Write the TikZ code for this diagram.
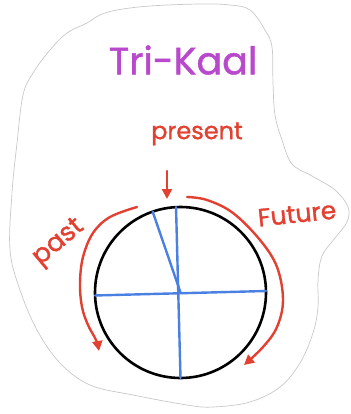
\documentclass[tikz,border=0pt]{standalone}
\usepackage{fontspec}
\setmainfont{Poppins}
\newfontfamily\hand{Poppins}[FakeBold=1.2]
\usetikzlibrary{arrows.meta}
\definecolor{penred}{RGB}{226,64,48}
\definecolor{penblue}{RGB}{74,128,226}
\definecolor{penpurple}{RGB}{184,72,204}
\definecolor{outline}{RGB}{200,200,200}
\tikzset{
  redpen/.style={draw=penred, line width=2.4pt, line cap=round, line join=round},
  bluepen/.style={draw=penblue, line width=2.4pt, line cap=round},
  redtip/.style={-{Triangle[length=10pt,width=10pt]}},
  lbl/.style={inner sep=0pt, text=penred},
}
\begin{document}
\begin{tikzpicture}[x=1pt,y=-1pt]
\useasboundingbox (0,0) rectangle (350,414);
% sticker outline
\draw[outline, line width=0.7pt] plot[smooth cycle, tension=0.6] coordinates {
  (117,10) (150,6) (200,4) (230,5) (250,10) (265,30) (272,47) (273,83) (275,115) (282,140)
  (292,164) (312,176) (335,190) (348,207) (347,222) (335,238) (322,256) (318,280)
  (318,307) (313,333) (300,363) (280,387) (250,402) (213,407) (187,405) (133,395)
  (90,385) (60,363) (37,330) (20,290) (10,250) (12,193) (17,143) (23,95) (33,73)
  (50,50) (67,33) (87,23) (100,15)};
% title
\node[inner sep=0pt, text=penpurple, font=\hand\fontsize{38}{38}\selectfont] (title) at (183,60) {Tri-Kaal};
% clock
\node[circle, draw=black, line width=2.6pt, minimum size=171pt, inner sep=0pt, outer sep=0pt] (c) at (180.5,292.5) {};
\draw[bluepen] (c.93) -- (c.270);
\draw[bluepen] (c.182) -- (c.1.6);
\draw[bluepen] (c.center) -- (c.109.5);
% labels
\node[lbl, font=\hand\fontsize{24}{24}\selectfont] (present) at (197,134) {present};
\node[lbl, font=\hand\fontsize{25}{25}\selectfont, rotate=6] (future) at (297,214) {Future};
\node[lbl, font=\hand\fontsize{26}{26}\selectfont, rotate=40] (past) at (59,243) {past};
% present arrow
\coordinate (prS) at (167,171);
\coordinate (prE) at (167,199);
\draw[redpen, redtip] (prS) -- (prE);
% past arc
\coordinate (paS) at (137,207);
\coordinate (paE) at (99,351);
\draw[redpen, redtip] plot[smooth, tension=0.6] coordinates {(paS) (110,217) (93,233) (83,257) (80,283) (82,307) (88,325) (96,340) (paE)};
% future arc
\coordinate (fuS) at (187,197);
\coordinate (fuE) at (244,365);
\draw[redpen, redtip] plot[smooth, tension=0.6] coordinates {(fuS) (207,200) (233,213) (260,240) (277,267) (283,300) (277,327) (263,347) (fuE)};
\end{tikzpicture}
\end{document}
